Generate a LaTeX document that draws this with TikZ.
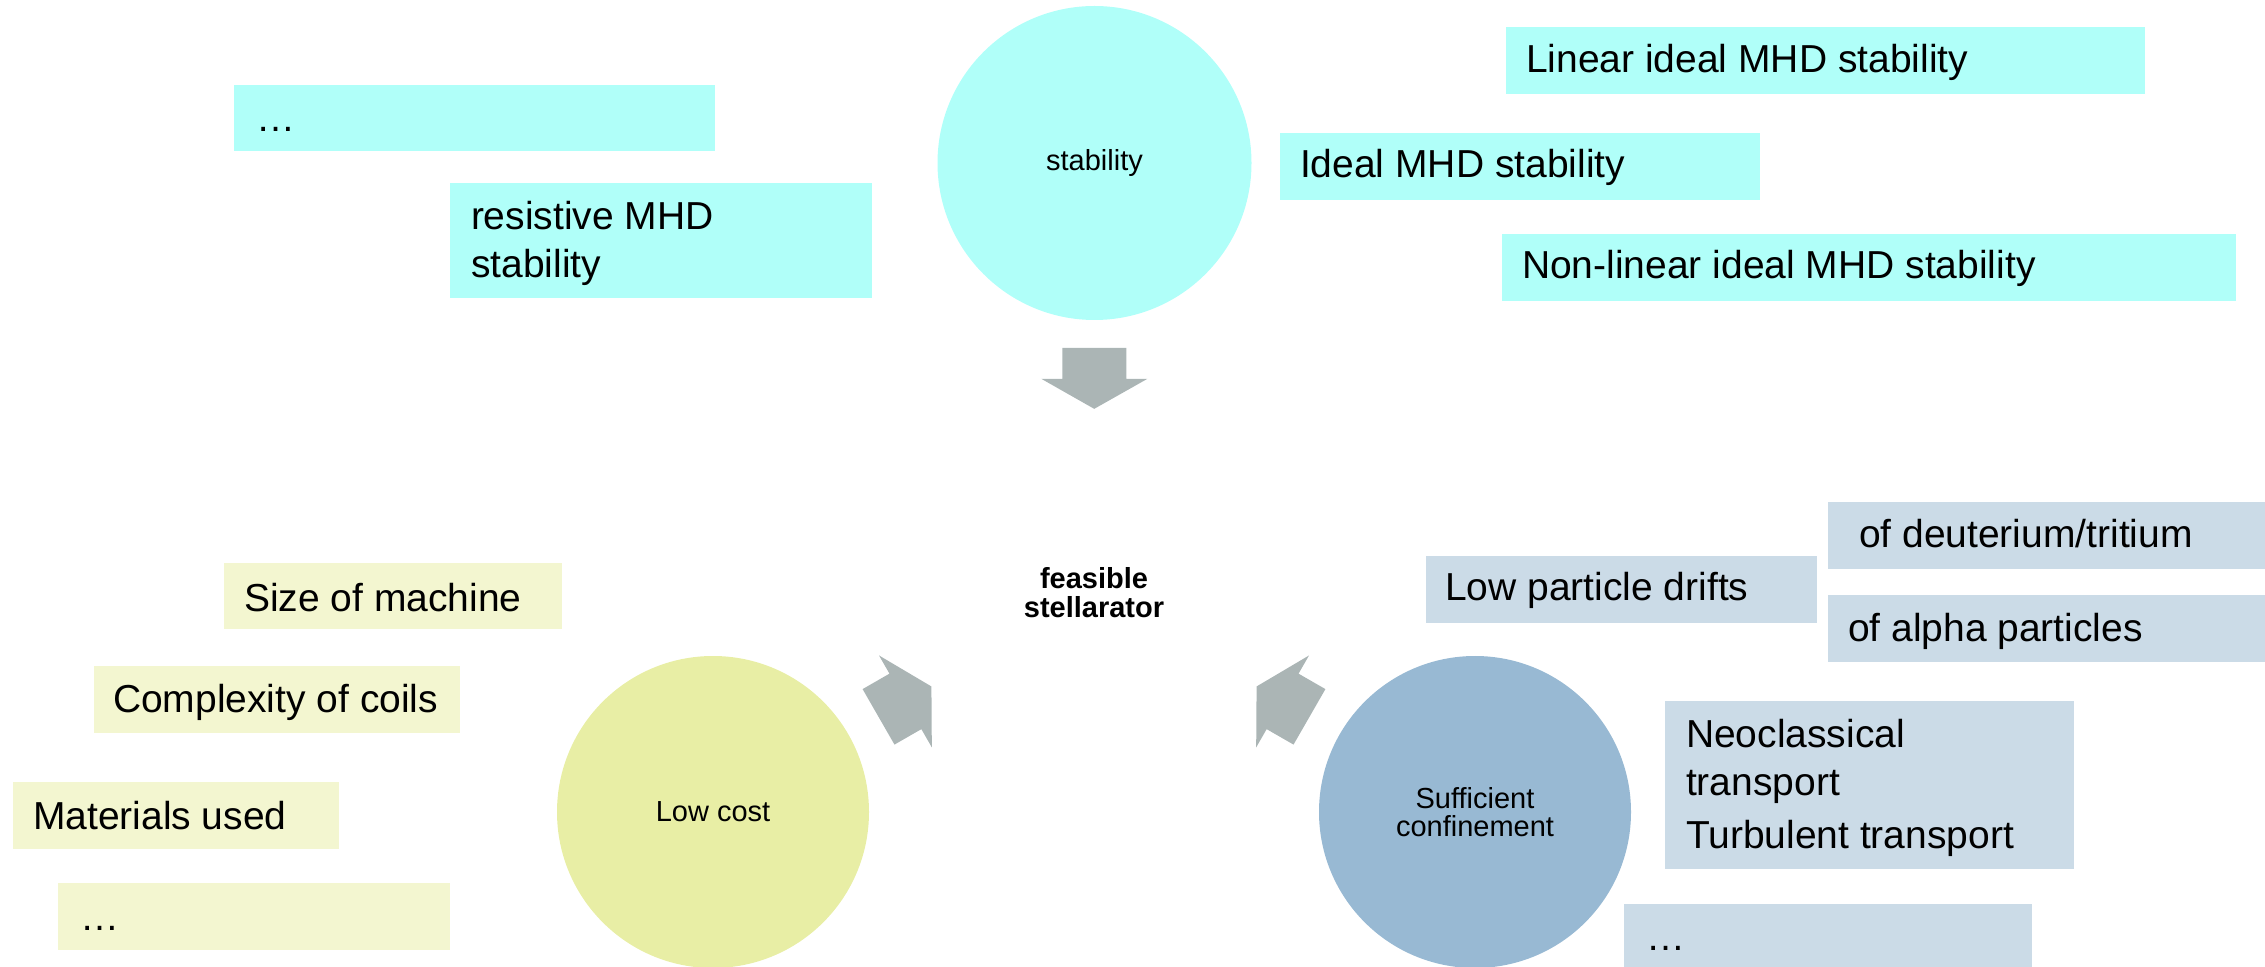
\documentclass[tikz,border=0pt]{standalone}
\usepackage{fontspec}
\setmainfont{Liberation Sans}
\usetikzlibrary{calc}

\definecolor{cyanfill}{RGB}{176,255,249}
\definecolor{yellowcirc}{RGB}{232,238,165}
\definecolor{yellowbox}{RGB}{243,246,208}
\definecolor{bluecirc}{RGB}{152,185,211}
\definecolor{bluebox}{RGB}{203,219,231}
\definecolor{arrowgray}{RGB}{171,181,181}

\tikzset{
  blockarrow/.pic={
    \fill[arrowgray] (-31,32) -- (0,32) -- (0,53) -- (30,0) -- (0,-53)
      -- (0,-32) -- (-31,-32) -- cycle;
  }
}

\begin{document}
\begin{tikzpicture}[x=0.5pt,y=-0.5pt,
  every node/.style={inner sep=0pt, outer sep=0pt},
  bigtext/.style={font=\fontsize{19.5pt}{24pt}\selectfont, anchor=base west, align=left},
  circtext/.style={font=\fontsize{14.5pt}{14pt}\selectfont, align=center},
  hub/.style={circle, minimum size=#1, circtext},
  panel/.style={anchor=north west, minimum height=33.5pt},
  cyanpanel/.style={panel, fill=cyanfill},
  yellowpanel/.style={panel, fill=yellowbox},
  bluepanel/.style={panel, fill=bluebox},
]
\useasboundingbox (0,0) rectangle (2265,967);

% central goal
\node[font=\bfseries\fontsize{14.5pt}{14.5pt}\selectfont, align=center] (feas) at (1094,593) {feasible\\stellarator};

% three main requirements
\node[hub=157pt, fill=cyanfill] (stab) at (1094.5,163) {stability};
\node[hub=156pt, fill=yellowcirc] (cost) at (713,812) {Low cost};
\node[hub=156pt, fill=bluecirc] (conf) at (1475,812) {Sufficient\\confinement};

% block arrows pointing to the goal
\path (stab.center) -- (feas.center) pic[pos=0.502, sloped, allow upside down] {blockarrow};
\path (cost.center) -- (feas.center) pic[pos=0.505, sloped, allow upside down] {blockarrow};
\path (conf.center) -- (feas.center) pic[pos=0.505, sloped, allow upside down] {blockarrow};

% stability aspects (multi-line texts are placed by their last baseline)
\node[cyanpanel, minimum width=240.5pt, minimum height=33pt] (sdots) at (234,85) {};
\node[bigtext] (sdots-t) at (256,132) {…};
\node[cyanpanel, minimum width=211pt, minimum height=57.5pt] (resist) at (450,183) {};
\node[bigtext] (resist-t) at (471,278) {resistive MHD\\stability};
\node[cyanpanel, minimum width=319.5pt] (linear) at (1506,27) {};
\node[bigtext] (linear-t) at (1526,73) {Linear ideal MHD stability};
\node[cyanpanel, minimum width=240pt] (ideal) at (1280,133) {};
\node[bigtext] (ideal-t) at (1300,178) {Ideal MHD stability};
\node[cyanpanel, minimum width=367pt] (nonlin) at (1502,234) {};
\node[bigtext] (nonlin-t) at (1522,279) {Non-linear ideal MHD stability};

% cost aspects
\node[yellowpanel, minimum width=169pt, minimum height=33pt] (size) at (224,563) {};
\node[bigtext] (size-t) at (244,611) {Size of machine};
\node[yellowpanel, minimum width=183pt] (coils) at (94,666) {};
\node[bigtext] (coils-t) at (113,712) {Complexity of coils};
\node[yellowpanel, minimum width=163pt] (mat) at (13,782) {};
\node[bigtext] (mat-t) at (33,829) {Materials used};
\node[yellowpanel, minimum width=196pt] (cdots) at (58,883) {};
\node[bigtext] (cdots-t) at (80,930) {…};

% confinement aspects
\node[bluepanel, minimum width=218.5pt] (dt) at (1828,502) {};
\node[bigtext] (dt-t) at (1859,548) {of deuterium/tritium};
\node[bluepanel, minimum width=195.5pt] (drift) at (1426,556) {};
\node[bigtext] (drift-t) at (1445,601) {Low particle drifts};
\node[bluepanel, minimum width=218.5pt] (alpha) at (1828,595) {};
\node[bigtext] (alpha-t) at (1848,642) {of alpha particles};
\node[bluepanel, minimum width=204.5pt, minimum height=84pt] (trans) at (1665,701) {};
\node[bigtext] (trans-t) at (1686,848) {Neoclassical\\transport\\[2.5pt]Turbulent transport};
\node[bluepanel, minimum width=204pt] (bdots) at (1624,904) {};
\node[bigtext] (bdots-t) at (1646,950) {…};
\end{tikzpicture}
\end{document}
